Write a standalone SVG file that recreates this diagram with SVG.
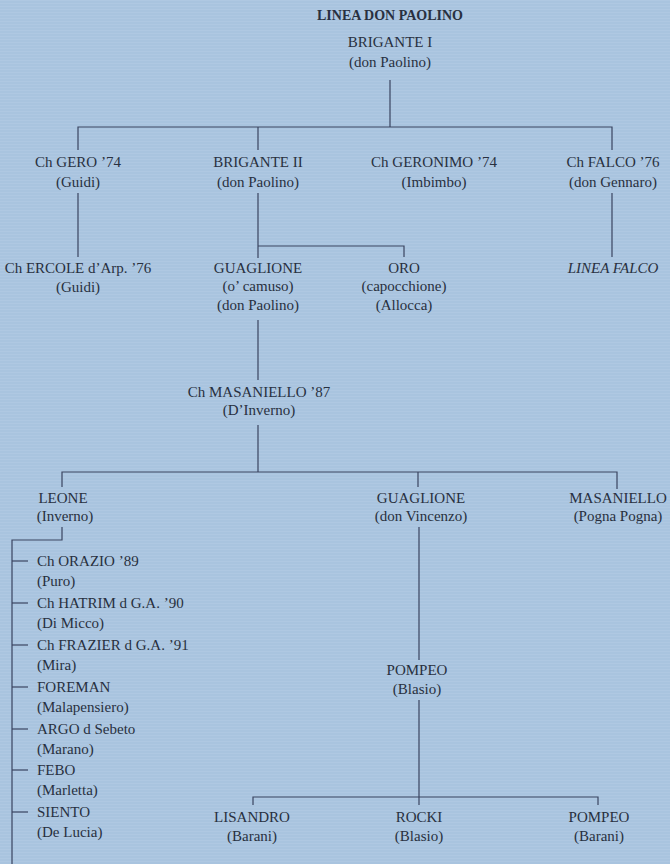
<svg xmlns="http://www.w3.org/2000/svg" width="670" height="864" viewBox="0 0 670 864">
<defs>
<style>
text{font-family:"Liberation Serif","Times New Roman",serif;font-size:15px;fill:#283040;text-anchor:middle}
.t{font-weight:bold;font-size:14px}
.i{font-style:italic}
.l{text-anchor:start}
.c line,.c polyline{stroke:#3a4460;stroke-width:1.2;fill:none}
</style>
<pattern id="tex" width="4" height="3" patternUnits="userSpaceOnUse">
<rect width="4" height="3" fill="#a9c4df"/>
<rect width="4" height="1" fill="#b2cce5" opacity="0.6"/>
</pattern>
</defs>
<rect width="670" height="864" fill="url(#tex)"/>
<g class="c" id="connectors">
<line x1="390" y1="80" x2="390" y2="127"/>
<polyline points="78,150 78,127 612,127 612,150"/>
<line x1="258" y1="127" x2="258" y2="150"/>
<line x1="78" y1="193" x2="78" y2="257"/>
<line x1="612" y1="193" x2="612" y2="257"/>
<line x1="258" y1="193" x2="258" y2="258"/>
<polyline points="258,246 404,246 404,257"/>
<line x1="258" y1="320" x2="258" y2="380"/>
<line x1="258" y1="425" x2="258" y2="472"/>
<polyline points="62,487 62,472 617,472 617,489"/>
<line x1="418" y1="472" x2="418" y2="487"/>
<polyline points="62,527 62,540 12,540 12,864"/>
<line x1="12" y1="561" x2="28" y2="561"/>
<line x1="12" y1="603" x2="28" y2="603"/>
<line x1="12" y1="645" x2="28" y2="645"/>
<line x1="12" y1="687" x2="28" y2="687"/>
<line x1="12" y1="729" x2="28" y2="729"/>
<line x1="12" y1="770" x2="28" y2="770"/>
<line x1="12" y1="812" x2="28" y2="812"/>
<line x1="419" y1="527" x2="419" y2="660"/>
<line x1="419" y1="700" x2="419" y2="805"/>
<polyline points="253,805 253,797 598,797 598,805"/>
</g>
<g id="title"><text class="t" x="390" y="20">LINEA DON PAOLINO</text></g>
<g id="brigante1"><text x="390" y="47">BRIGANTE I</text><text x="390" y="67">(don Paolino)</text></g>
<g id="gero"><text x="78" y="167">Ch GERO ’74</text><text x="78" y="187">(Guidi)</text></g>
<g id="brigante2"><text x="258" y="167">BRIGANTE II</text><text x="258" y="187">(don Paolino)</text></g>
<g id="geronimo"><text x="434" y="167">Ch GERONIMO ’74</text><text x="434" y="187">(Imbimbo)</text></g>
<g id="falco"><text x="613" y="167">Ch FALCO ’76</text><text x="613" y="187">(don Gennaro)</text></g>
<g id="ercole"><text x="78" y="273">Ch ERCOLE d’Arp. ’76</text><text x="78" y="292">(Guidi)</text></g>
<g id="guaglione1"><text x="258" y="273">GUAGLIONE</text><text x="258" y="291">(o’ camuso)</text><text x="258" y="310">(don Paolino)</text></g>
<g id="oro"><text x="404" y="273">ORO</text><text x="404" y="291">(capocchione)</text><text x="404" y="310">(Allocca)</text></g>
<g id="lineafalco"><text class="i" x="613" y="273">LINEA FALCO</text></g>
<g id="masaniello87"><text x="259" y="397">Ch MASANIELLO ’87</text><text x="259" y="415">(D’Inverno)</text></g>
<g id="leone"><text x="63" y="503">LEONE</text><text x="65" y="521">(Inverno)</text></g>
<g id="guaglione2"><text x="421" y="503">GUAGLIONE</text><text x="421" y="521">(don Vincenzo)</text></g>
<g id="masaniello"><text x="618" y="503">MASANIELLO</text><text x="618" y="521">(Pogna Pogna)</text></g>
<g id="orazio"><text class="l" x="37" y="566">Ch ORAZIO ’89</text><text class="l" x="37" y="586">(Puro)</text></g>
<g id="hatrim"><text class="l" x="37" y="608">Ch HATRIM d G.A. ’90</text><text class="l" x="37" y="628">(Di Micco)</text></g>
<g id="frazier"><text class="l" x="37" y="650">Ch FRAZIER d G.A. ’91</text><text class="l" x="37" y="670">(Mira)</text></g>
<g id="foreman"><text class="l" x="37" y="692">FOREMAN</text><text class="l" x="37" y="712">(Malapensiero)</text></g>
<g id="argo"><text class="l" x="37" y="734">ARGO d Sebeto</text><text class="l" x="37" y="754">(Marano)</text></g>
<g id="febo"><text class="l" x="37" y="775">FEBO</text><text class="l" x="37" y="795">(Marletta)</text></g>
<g id="siento"><text class="l" x="37" y="817">SIENTO</text><text class="l" x="37" y="837">(De Lucia)</text></g>
<g id="pompeo1"><text x="417" y="675">POMPEO</text><text x="417" y="694">(Blasio)</text></g>
<g id="lisandro"><text x="252" y="822">LISANDRO</text><text x="252" y="841">(Barani)</text></g>
<g id="rocki"><text x="419" y="822">ROCKI</text><text x="419" y="841">(Blasio)</text></g>
<g id="pompeo2"><text x="599" y="822">POMPEO</text><text x="599" y="841">(Barani)</text></g>
</svg>
